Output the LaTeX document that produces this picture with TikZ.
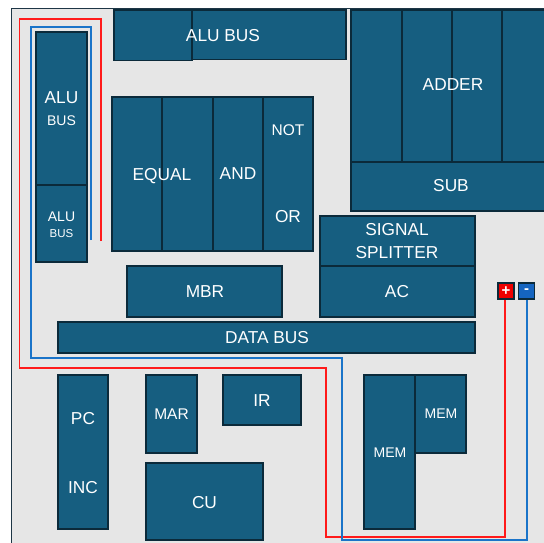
\documentclass[tikz,border=0pt]{standalone}
\usepackage{fontspec}
\setmainfont{Liberation Sans}
\definecolor{blkfill}{HTML}{165E80}
\definecolor{blkedge}{HTML}{0B2A3A}
\definecolor{panelfill}{HTML}{E6E6E6}
\definecolor{paneledge}{HTML}{1E3646}
\definecolor{wred}{HTML}{FF1A1A}
\definecolor{wblue}{HTML}{1A74C9}
\definecolor{termred}{HTML}{EE0000}
\definecolor{termblue}{HTML}{1565C0}
\tikzset{
  blk/.style={draw=blkedge, fill=blkfill, line width=1.5pt, inner sep=0pt, outer sep=0pt},
  lbl/.style={text=white, inner sep=0pt, align=center, text depth=0pt, font=\fontsize{17.3}{20}\selectfont},
  lblm/.style={lbl, font=\fontsize{15.5}{18}\selectfont},
  lbls/.style={lbl, font=\fontsize{14}{16}\selectfont},
  lblxs/.style={lbl, font=\fontsize{11.5}{13}\selectfont},
  wirered/.style={draw=wred, line width=1.5pt},
  wireblue/.style={draw=wblue, line width=1.5pt},
  term/.style={draw=blkedge, line width=1.3pt, minimum width=16pt, minimum height=16pt, inner sep=0pt, text=white, font=\bfseries\fontsize{15}{15}\selectfont}
}
\newcommand\blkrect[5]{\node[blk, minimum width={(#4)-(#2)}, minimum height={(#5)-(#3)}] (#1) at ({((#2)+(#4))/2},{((#3)+(#5))/2}) {};}
\begin{document}
\begin{tikzpicture}[x=1pt,y=-1pt]
\useasboundingbox (0,0) rectangle (544,542);
\clip (0,0) rectangle (544,542);
% panel
\path[fill=panelfill, draw=paneledge, line width=1.2pt] (11.7,8.3) rectangle (570,570);

% terminals
\node[term, fill=termred] (plus) at (506,291) {+};
\node[term, fill=termblue] (minus) at (526.5,291) {-};
\coordinate (redend) at (101,241);
\coordinate (blueend) at (91,240);

% wires
\draw[wirered] (redend) -- (101,19) -- (19.5,19) -- (19.5,368) -- (326,368) -- (326,537) -- (505,537) -- (505,537 |- plus.south);
\draw[wireblue] (blueend) -- (91,27) -- (31,27) -- (31,358) -- (342,358) -- (342,540) -- (527,540) -- (527,540 |- minus.south);

% blocks
\blkrect{alutopB}{192}{10}{346}{59.5}
\blkrect{alutopA}{114}{10}{192}{60.5}
\blkrect{aluA}{36}{32}{87}{185}
\blkrect{aluB}{36}{185}{87}{262}
\blkrect{addA}{351}{10}{402}{162}
\blkrect{addB}{402}{10}{452}{162}
\blkrect{addC}{452}{10}{502}{162}
\blkrect{addD}{502}{10}{552}{162}
\blkrect{sub}{351}{162}{552}{211}
\blkrect{eqA}{112}{97}{162}{251}
\blkrect{eqB}{162}{97}{213}{251}
\blkrect{andb}{213}{97}{263}{251}
\blkrect{notor}{263}{97}{313}{251}
\blkrect{sig}{320}{216}{475}{266}
\blkrect{ac}{320}{266}{475}{317}
\blkrect{mbr}{127}{266}{282}{317}
\blkrect{data}{58}{322}{475}{353}
\blkrect{pc}{58}{375}{108}{529}
\blkrect{mar}{146}{375}{197}{453}
\blkrect{ir}{223}{375}{301}{425}
\blkrect{cu}{146}{463}{263}{540}
\blkrect{memA}{364}{375}{415}{529}
\blkrect{memB}{415}{375}{466}{453}

% labels
\node[lbl] (tAluTop) at (223,35) {ALU BUS};
\node[lbl] (tAluA1) at (61.5,98) {ALU};
\node[lbls] (tAluA2) at (61.5,120.5) {BUS};
\node[lbls] (tAluB1) at (61.5,217) {ALU};
\node[lblxs] (tAluB2) at (61.5,233) {BUS};
\node[lbl] (tAdder) at (453,85) {ADDER};
\node[lbl] (tSub) at (451,185.5) {SUB};
\node[lbl] (tEqual) at (162,174) {EQUAL};
\node[lbl] (tAnd) at (238,174) {AND};
\node[lblm] (tNot) at (288,130) {NOT};
\node[lbl] (tOr) at (288,216.5) {OR};
\node[lbl] (tSig) at (397,229) {SIGNAL};
\node[lbl] (tSplit) at (397,252) {SPLITTER};
\node[lbl] (tAc) at (397,291.5) {AC};
\node[lbl] (tMbr) at (205,292) {MBR};
\node[lbl] (tData) at (267,337.5) {DATA BUS};
\node[lbl] (tPc) at (83,418) {PC};
\node[lbl] (tInc) at (83,487) {INC};
\node[lblm] (tMar) at (171.5,414) {MAR};
\node[lbl] (tIr) at (262,401) {IR};
\node[lbl] (tCu) at (204.5,502) {CU};
\node[lbls] (tMemA) at (390,452.5) {MEM};
\node[lbls] (tMemB) at (441,413.5) {MEM};
\end{tikzpicture}
\end{document}
